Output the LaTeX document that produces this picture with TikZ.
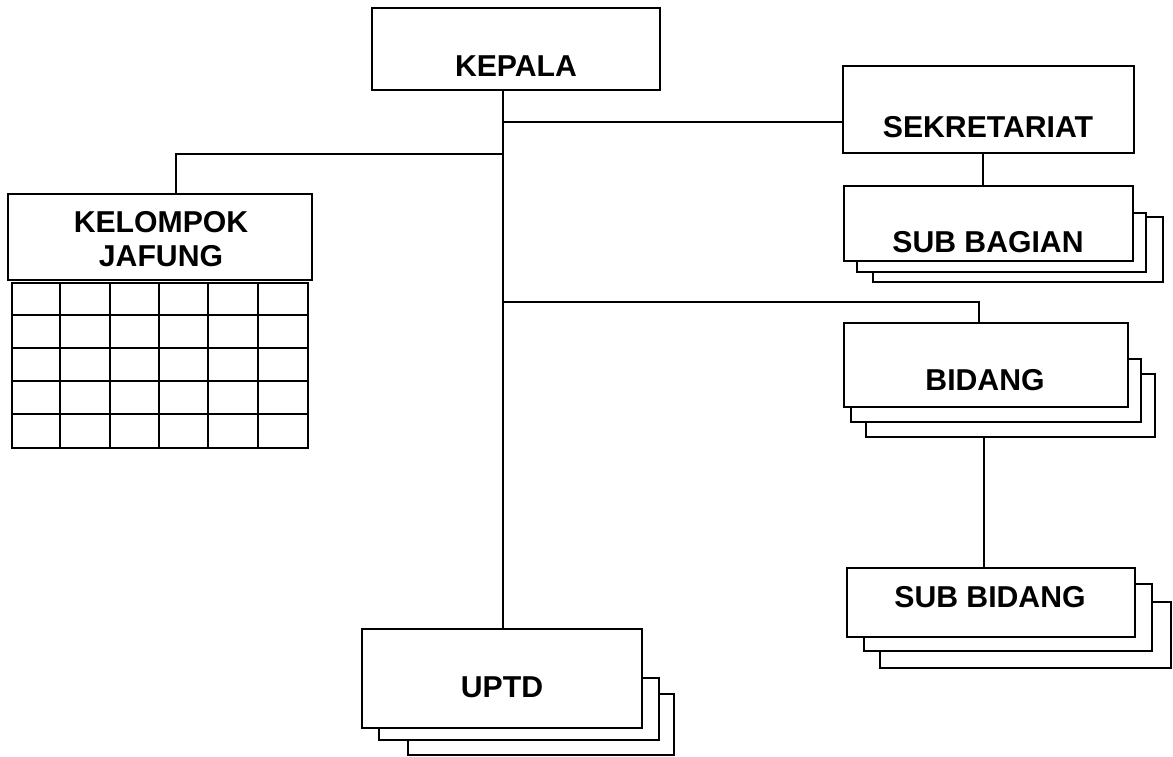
\documentclass[tikz,border=0pt]{standalone}
\usepackage{fontspec}
\setmainfont{Liberation Sans}
\usetikzlibrary{calc}
\begin{document}
\begin{tikzpicture}[x=1pt,y=-1pt,
  ln/.style={line width=2pt},
  bx/.style={draw, fill=white, line width=2pt, inner sep=0pt},
  txt/.style={font=\fontsize{30.2}{34}\selectfont\bfseries, inner sep=0pt, align=center}]
\useasboundingbox (0,0) rectangle (1173,756);
% boxes
\node[bx, minimum width=288pt, minimum height=82pt] (kepala) at (516,49) {};
\node[bx, minimum width=291pt, minimum height=87pt] (sek) at (988.5,109.5) {};
\node[bx, minimum width=304pt, minimum height=86pt] (kj) at (160,237) {};
% grid under KELOMPOK JAFUNG
\node[draw, line width=2pt, inner sep=0pt, minimum width=296pt, minimum height=165pt] (grid) at (160,365.5) {};
\foreach \i in {1,...,5} \draw[ln] ($(grid.north west)+(49.33*\i,0)$) -- ($(grid.south west)+(49.33*\i,0)$);
\foreach \j in {1,...,4} \draw[ln] ($(grid.north west)+(0,33*\j)$) -- ($(grid.north east)+(0,33*\j)$);
% SUB BAGIAN stack
\node[bx, minimum width=290pt, minimum height=65pt] (sbag3) at (1018,249.5) {};
\node[bx, minimum width=289pt, minimum height=59pt] (sbag2) at (1001.5,242.5) {};
\node[bx, minimum width=289pt, minimum height=75pt] (sbag) at (988.5,223.5) {};
% BIDANG stack
\node[bx, minimum width=289pt, minimum height=63pt] (bid3) at (1010.5,405.5) {};
\node[bx, minimum width=290pt, minimum height=63pt] (bid2) at (996,390.5) {};
\node[bx, minimum width=284pt, minimum height=84pt] (bid) at (986,365) {};
% SUB BIDANG stack
\node[bx, minimum width=291pt, minimum height=66pt] (sbid3) at (1025,635) {};
\node[bx, minimum width=288pt, minimum height=67pt] (sbid2) at (1008,617.5) {};
\node[bx, minimum width=288pt, minimum height=69pt] (sbid) at (991,602.5) {};
% UPTD stack
\node[bx, minimum width=266pt, minimum height=61pt] (uptd3) at (541,724) {};
\node[bx, minimum width=280pt, minimum height=62pt] (uptd2) at (519,709) {};
\node[bx, minimum width=280pt, minimum height=99pt] (uptd) at (502,678.5) {};
% texts
\node[txt] (tkepala) at (516,66) {KEPALA};
\node[txt] (tsek) at (988,127) {SEKRETARIAT};
\node[txt] (tkj) at (161,239) {KELOMPOK\\JAFUNG};
\node[txt] (tsbag) at (988,242) {SUB BAGIAN};
\node[txt] (tbid) at (985,380) {BIDANG};
\node[txt] (tsbid) at (990,597) {SUB BIDANG};
\node[txt] (tuptd) at (502,687) {UPTD};
% connectors
\coordinate (t) at (503,0);
\coordinate (j1) at (503,122);
\coordinate (j2) at (503,154);
\coordinate (j3) at (503,302);
\coordinate (k) at (176,0);
\coordinate (b) at (979,0);
\coordinate (s) at (983,0);
\coordinate (d) at (984,0);
\draw[ln] (t |- kepala.south) -- (t |- uptd.north);
\draw[ln] (j1) -- (j1 -| sek.west);
\draw[ln] (j2) -| (k |- kj.north);
\draw[ln] (j3) -| (b |- bid.north);
\draw[ln] (s |- sek.south) -- (s |- sbag.north);
\draw[ln] (d |- bid3.south) -- (d |- sbid.north);
\end{tikzpicture}
\end{document}
